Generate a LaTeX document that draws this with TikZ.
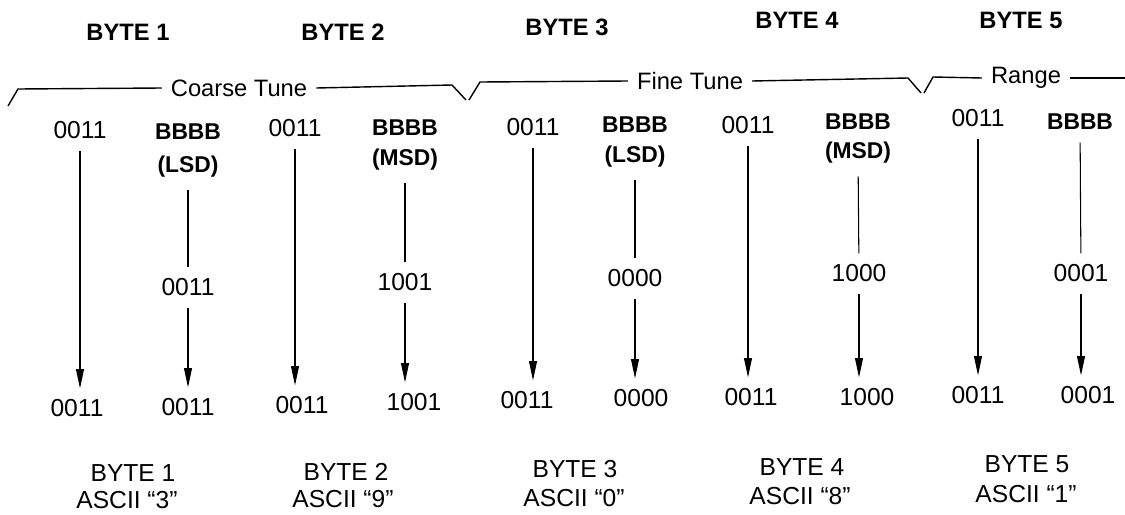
\documentclass[tikz,border=0pt]{standalone}
\usepackage{fontspec}
\setmainfont{Liberation Sans}
\usetikzlibrary{arrows.meta}

\tikzset{
	ziffer/.style={inner sep=0pt, font=\fontsize{14}{16}\selectfont},
	fett/.style={inner sep=0pt, font=\fontsize{13}{15}\selectfont\bfseries},
	kopf/.style={inner sep=0pt, font=\fontsize{13.5}{16}\selectfont\bfseries},
	marke/.style={inner sep=5pt, font=\fontsize{13.5}{16}\selectfont},
	strich/.style={line width=0.6pt, shorten <=7pt, shorten >=6pt},
	pfeil/.style={strich, -{Triangle[length=11pt,width=4.5pt]}},
	klammer/.style={line width=0.8pt}
}

\begin{document}
\begin{tikzpicture}[x=0.02cm, y=-0.02cm]
		\useasboundingbox (0,0) rectangle (1125,514);
		
		% Byte-Ueberschriften
		\node[kopf] (kopf1) at (128,32) {BYTE 1};
		\node[kopf] (kopf2) at (343,32) {BYTE 2};
		\node[kopf] (kopf3) at (567,27) {BYTE 3};
		\node[kopf] (kopf4) at (797,20) {BYTE 4};
		\node[kopf] (kopf5) at (1021,20) {BYTE 5};
		
		% Klammern
		\node[marke] (grob) at (239,88) {Coarse Tune};
		\draw[klammer] (8,106) -- (18,89) -- (grob.west);
		\draw[klammer] (grob.east) -- (452,85) -- (466,100);
		\node[marke] (fein) at (690,81) {Fine Tune};
		\draw[klammer] (469,100) -- (480,82) -- (fein.west);
		\draw[klammer] (fein.east) -- (908,78) -- (921,93);
		\node[marke] (bereich) at (1026,78) {Range};
		\draw[klammer] (924,93) -- (933,77) -- (bereich.west);
		\draw[klammer] (bereich.east) -- (1125,78);
		
		% obere Zeile
		\node[ziffer] (o1) at (80,130) {0011};
		\node[fett] (o2) at (188,132) {BBBB};
		\node[fett] (z2) at (188,167) {(LSD)};
		\node[ziffer] (o3) at (295,128) {0011};
		\node[fett] (o4) at (405,128) {BBBB};
		\node[fett] (z4) at (405,160) {(MSD)};
		\node[ziffer] (o5) at (533,127) {0011};
		\node[fett] (o6) at (635,125) {BBBB};
		\node[fett] (z6) at (635,157) {(LSD)};
		\node[ziffer] (o7) at (748,125) {0011};
		\node[fett] (o8) at (858,122) {BBBB};
		\node[fett] (z8) at (858,153) {(MSD)};
		\node[ziffer] (o9) at (978,118) {0011};
		\node[fett] (o10) at (1080,122) {BBBB};
		
		% mittlere Zeile
		\node[ziffer] (m2) at (188,287) {0011};
		\node[ziffer] (m4) at (405,282) {1001};
		\node[ziffer] (m6) at (635,278) {0000};
		\node[ziffer] (m8) at (859,273) {1000};
		\node[ziffer] (m10) at (1081,273) {0001};
		
		% untere Zeile
		\node[ziffer] (u1) at (77,408) {0011};
		\node[ziffer] (u2) at (188,407) {0011};
		\node[ziffer] (u3) at (302,405) {0011};
		\node[ziffer] (u4) at (414,402) {1001};
		\node[ziffer] (u5) at (527,400) {0011};
		\node[ziffer] (u6) at (641,398) {0000};
		\node[ziffer] (u7) at (751,397) {0011};
		\node[ziffer] (u8) at (867,397) {1000};
		\node[ziffer] (u9) at (978,395) {0011};
		\node[ziffer] (u10) at (1088,395) {0001};
		
		% Pfeile
		\draw[pfeil] (o1) -- (o1 |- u1.north);
		\draw[strich] (z2) -- (m2);
		\draw[pfeil] (m2) -- (m2 |- u2.north);
		\draw[pfeil] (o3) -- (o3 |- u3.north);
		\draw[strich] (z4) -- (m4);
		\draw[pfeil] (m4) -- (m4 |- u4.north);
		\draw[pfeil] (o5) -- (o5 |- u5.north);
		\draw[strich] (z6) -- (m6);
		\draw[pfeil] (m6) -- (m6 |- u6.north);
		\draw[pfeil] (o7) -- (o7 |- u7.north);
		\draw[strich] (z8) -- (m8);
		\draw[pfeil] (m8) -- (m8 |- u8.north);
		\draw[pfeil] (o9) -- (o9 |- u9.north);
		\draw[strich] (o10) -- (m10);
		\draw[pfeil] (m10) -- (m10 |- u10.north);
		
		% ASCII-Zeichen
		\node[ziffer] (byte1) at (133,473) {BYTE 1};
		\node[ziffer] (ascii1) at (127,500) {ASCII ``3''};
		\node[ziffer] (byte2) at (346,472) {BYTE 2};
		\node[ziffer] (ascii2) at (343,499) {ASCII ``9''};
		\node[ziffer] (byte3) at (575,469) {BYTE 3};
		\node[ziffer] (ascii3) at (574,498) {ASCII ``0''};
		\node[ziffer] (byte4) at (802,467) {BYTE 4};
		\node[ziffer] (ascii4) at (800,496) {ASCII ``8''};
		\node[ziffer] (byte5) at (1027,464) {BYTE 5};
		\node[ziffer] (ascii5) at (1026,494) {ASCII ``1''};
		
	\end{tikzpicture}
\end{document}
